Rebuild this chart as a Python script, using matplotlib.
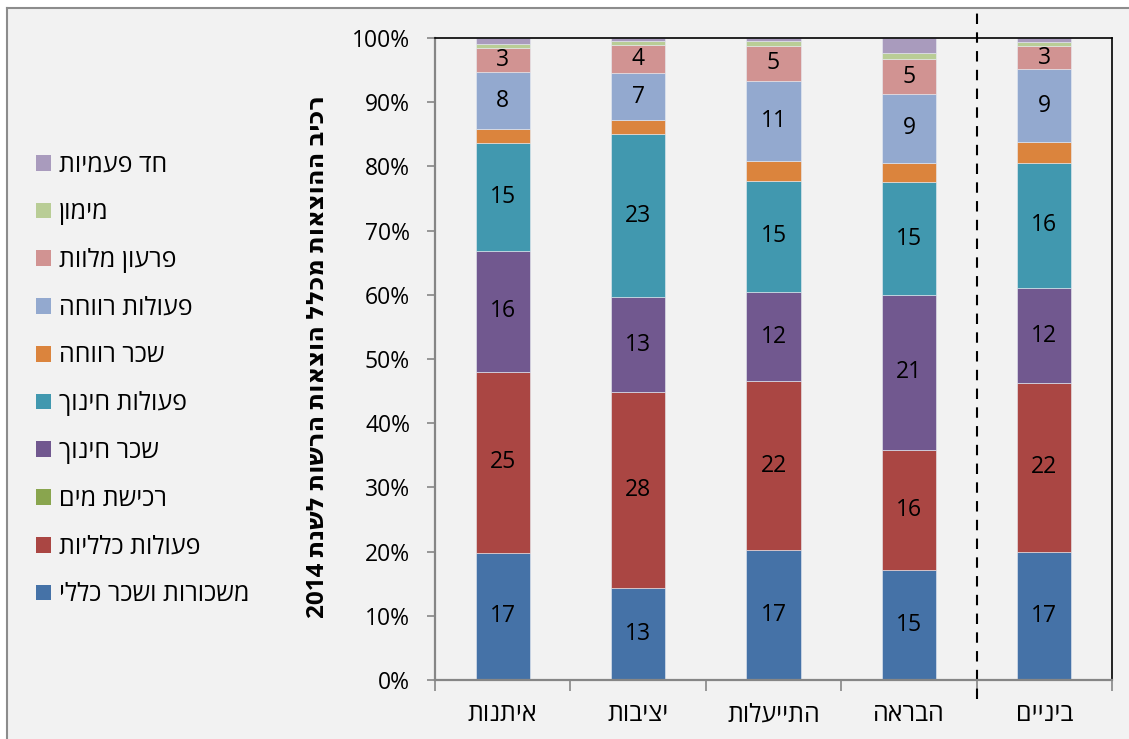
import numpy as np
import matplotlib
matplotlib.use('Agg')
import matplotlib.pyplot as plt
from matplotlib.patches import Patch, Rectangle
from matplotlib.lines import Line2D

plt.rcParams['font.family'] = ['Open Sans', 'DejaVu Sans']


def heb(s):
    # matplotlib has no bidi: flip hebrew words into visual order
    words = s.split(' ')[::-1]
    return ' '.join(w if w.isdigit() else w[::-1] for w in words)


categories = ['איתנות', 'יציבות', 'התייעלות', 'הבראה', 'ביניים']

series = ['משכורות ושכר כללי', 'פעולות כלליות', 'רכישת מים', 'שכר חינוך',
          'פעולות חינוך', 'שכר רווחה', 'פעולות רווחה', 'פרעון מלוות',
          'מימון', 'חד פעמיות']

# share of total expenditure (%), per series, per category
shares = {
    'משכורות ושכר כללי': [19.8, 14.4, 20.3, 17.2, 20.0],
    'פעולות כלליות':     [28.2, 30.5, 26.2, 18.7, 26.2],
    'רכישת מים':         [0.0, 0.0, 0.0, 0.0, 0.0],
    'שכר חינוך':         [18.9, 14.7, 13.9, 24.0, 14.8],
    'פעולות חינוך':      [16.8, 25.5, 17.4, 17.6, 19.6],
    'שכר רווחה':         [2.1, 2.1, 3.1, 3.1, 3.2],
    'פעולות רווחה':      [8.9, 7.3, 12.4, 10.7, 11.3],
    'פרעון מלוות':       [3.7, 4.4, 5.5, 5.4, 3.7],
    'מימון':             [0.7, 0.6, 0.8, 0.9, 0.6],
    'חד פעמיות':         [0.9, 0.5, 0.4, 2.4, 0.6],
}

# value labels printed on the segments
labels = {
    'משכורות ושכר כללי': [17, 13, 17, 15, 17],
    'פעולות כלליות':     [25, 28, 22, 16, 22],
    'שכר חינוך':         [16, 13, 12, 21, 12],
    'פעולות חינוך':      [15, 23, 15, 15, 16],
    'פעולות רווחה':      [8, 7, 11, 9, 9],
    'פרעון מלוות':       [3, 4, 5, 5, 3],
}

colors = ['#4572A7', '#AA4643', '#89A54E', '#71588F', '#4198AF',
          '#DB843D', '#93A9CF', '#D19392', '#B9CD96', '#A99BBD']

ylabel = 'רכיב ההוצאות מכלל הוצאות הרשות לשנת 2014'

W, H = 1129, 739
fig = plt.figure(figsize=(W / 100, H / 100), dpi=100, facecolor='#f2f2f2')
ax = fig.add_axes([435 / W, 1 - 680 / H, (1112 - 435) / W, (680 - 38) / H])
ax.set_facecolor('#f2f2f2')

x = np.arange(len(categories))
tot = np.sum([shares[s] for s in series], axis=0)
bottom = np.zeros(len(categories))
handles = []
for s, c in zip(series, colors):
    v = np.array(shares[s]) / tot
    ax.bar(x, v, 0.4, bottom=bottom, color=c, edgecolor='#e8ecf2',
           linewidth=0.4)
    if s in labels:
        for xi, b, h, lab in zip(x, bottom, v, labels[s]):
            ax.text(xi, b + h / 2, str(lab), ha='center', va='center',
                    fontsize=16.5, color='black')
    bottom += v
    handles.append(Patch(facecolor=c, edgecolor='none'))

ax.set_xlim(-0.5, len(categories) - 0.5)
ax.set_ylim(0, 1)
ax.set_yticks(np.linspace(0, 1, 11))
ax.set_yticklabels(['{:d}%'.format(int(round(t * 100))) for t in np.linspace(0, 1, 11)],
                   fontsize=16.5)
ax.set_xticks(x)
ax.set_xticklabels([heb(c) for c in categories], fontsize=18)
ax.set_xticks(np.arange(-0.5, len(categories)), minor=True)
ax.tick_params(axis='x', which='major', length=0, pad=16)
ax.tick_params(axis='x', which='minor', length=8, color='#868686', width=1.2)
ax.tick_params(axis='y', length=6, color='#868686', width=1.2, pad=12)

for side in ['top', 'right']:
    ax.spines[side].set_color('black')
    ax.spines[side].set_linewidth(1.2)
for side in ['left', 'bottom']:
    ax.spines[side].set_color('#868686')
    ax.spines[side].set_linewidth(1.6)

# dashed separator before the last group
ax.plot([3.5, 3.5], [-0.03, 1.05], color='black', lw=1.5,
        linestyle=(0, (5, 4)), clip_on=False)

fig.text(318 / W, 1 - 357 / H, heb(ylabel), rotation=90, ha='center',
         va='center', fontsize=17.5, fontweight='bold')

fig.legend(handles[::-1], [heb(s) for s in series[::-1]],
           loc='upper left', bbox_to_anchor=(13 / W, 1 - 130 / H),
           frameon=False, fontsize=18, handlelength=0.6, handleheight=0.6,
           handletextpad=0.35, labelspacing=0.91)

# white margin and gray frame of the chart area (top and left visible)
fig.add_artist(Rectangle((0, 1 - 8 / H), 1, 8 / H, transform=fig.transFigure,
                         facecolor='white', edgecolor='none'))
fig.add_artist(Rectangle((0, 0), 7 / W, 1, transform=fig.transFigure,
                         facecolor='white', edgecolor='none'))
fig.add_artist(Line2D([7 / W, 7 / W], [0, 1 - 8 / H], color='#8c8c8c', lw=1.5))
fig.add_artist(Line2D([7 / W, 1], [1 - 8 / H, 1 - 8 / H], color='#8c8c8c', lw=1.5))

fig.savefig('out.png', dpi=100, facecolor=fig.get_facecolor())
